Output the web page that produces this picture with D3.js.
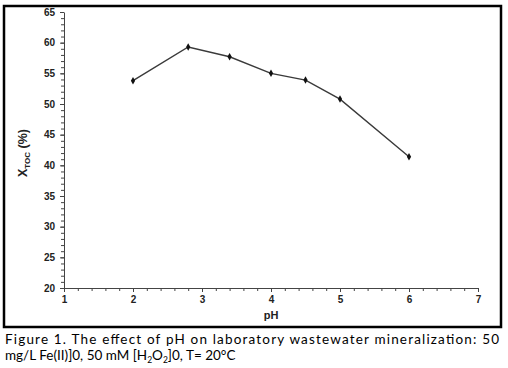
<!DOCTYPE html>
<html>
<head>
<meta charset="utf-8">
<script src="https://cdn.jsdelivr.net/npm/d3@7"></script>
<style>
  body { margin: 0; background: #fff; }
  .axis text { font-family: Arial, "Liberation Sans", sans-serif; font-weight: bold; font-size: 10px; fill: #222; }
  .axis path, .axis line { stroke: #444; }
</style>
</head>
<body>
<div id="chart"></div>
<script>
var phValues = [2, 2.8, 3.4, 4, 4.5, 5, 6];
var xtocValues = [53.8, 59.3, 57.7, 55.0, 53.9, 50.8, 41.4];
var xTicks = [1, 2, 3, 4, 5, 6, 7];
var yTicks = [20, 25, 30, 35, 40, 45, 50, 55, 60, 65];

var W = 508, H = 368;
var margin = {top: 12, right: 30, bottom: 80, left: 64},
  width = 478 - margin.left,
  height = 288 - margin.top;

var svg = d3.select('#chart')
  .append('svg')
    .attr('width', W)
    .attr('height', H);

// outer frame
svg.append('rect')
  .attr('x', 4).attr('y', 6)
  .attr('width', 497).attr('height', 321)
  .attr('fill', 'none')
  .attr('stroke', '#000')
  .attr('stroke-width', 2.5);

var g = svg.append('g')
  .attr('transform', 'translate(' + margin.left + ',' + margin.top + ')');

var x = d3.scaleLinear().domain([1, 7]).range([0, width]);
var y = d3.scaleLinear().domain([20, 65]).range([height, 0]);

// minor ticks
g.append('g')
  .attr('class', 'axis')
  .attr('transform', 'translate(0,' + height + ')')
  .call(d3.axisBottom(x).tickValues(d3.range(10, 71, 2).map(function(d){ return d / 10; })).tickSize(3).tickFormat(''))
  .select('.domain').remove();

g.append('g')
  .attr('class', 'axis')
  .call(d3.axisLeft(y).tickValues(d3.range(20, 66, 1)).tickSize(3).tickFormat(''))
  .select('.domain').remove();

// major axes
g.append('g')
  .attr('class', 'axis')
  .attr('transform', 'translate(0,' + height + ')')
  .call(d3.axisBottom(x).tickValues(xTicks).tickSize(4).tickSizeOuter(0).tickPadding(4).tickFormat(d3.format('d')));

g.append('g')
  .attr('class', 'axis')
  .call(d3.axisLeft(y).tickValues(yTicks).tickSize(4).tickSizeOuter(0).tickPadding(5).tickFormat(d3.format('d')));

// data line
var line = d3.line()
  .x(function(d, i) { return x(phValues[i]); })
  .y(function(d) { return y(d); });

g.append('path')
  .datum(xtocValues)
  .attr('fill', 'none')
  .attr('stroke', '#3a3a3a')
  .attr('stroke-width', 1.4)
  .attr('d', line);

g.selectAll('.marker')
  .data(xtocValues).enter()
  .append('path')
    .attr('class', 'marker')
    .attr('transform', function(d, i) { return 'translate(' + x(phValues[i]) + ',' + y(d) + ')'; })
    .attr('d', d3.symbol().type(d3.symbolDiamond).size(16))
    .attr('fill', '#111');

// axis titles
g.append('text')
  .attr('x', x(4))
  .attr('y', height + 31)
  .attr('text-anchor', 'middle')
  .attr('font-family', 'Arial, "Liberation Sans", sans-serif')
  .attr('font-weight', 'bold')
  .attr('font-size', 11)
  .attr('fill', '#222')
  .text('pH');

var ylab = svg.append('text')
  .attr('transform', 'translate(27,153) rotate(-90)')
  .attr('text-anchor', 'middle')
  .attr('font-family', 'Arial, "Liberation Sans", sans-serif')
  .attr('font-weight', 'bold')
  .attr('font-size', 12.5)
  .attr('fill', '#222');
ylab.append('tspan').text('X');
ylab.append('tspan').attr('font-size', 8).attr('dy', 3).text('TOC');
ylab.append('tspan').attr('dy', -3).text(' (%)');

// caption
var capFont = 'Lato, "Open Sans", sans-serif';
svg.append('text')
  .attr('x', 5)
  .attr('y', 344)
  .attr('font-family', capFont)
  .attr('font-size', 13.5)
  .attr('fill', '#000')
  .attr('textLength', 494)
  .attr('lengthAdjust', 'spacing')
  .text('Figure 1. The effect of pH on laboratory wastewater mineralization: 50');

var cap2 = svg.append('text')
  .attr('x', 5)
  .attr('y', 360)
  .attr('font-family', capFont)
  .attr('font-size', 13.5)
  .attr('fill', '#000');
cap2.append('tspan').text('mg/L Fe(II)]0, 50 mM [H');
cap2.append('tspan').attr('font-size', 8.5).attr('dy', 3).text('2');
cap2.append('tspan').attr('dy', -3).text('O');
cap2.append('tspan').attr('font-size', 8.5).attr('dy', 3).text('2');
cap2.append('tspan').attr('dy', -3).text(']0, T= 20°C');
</script>
</body>
</html>
